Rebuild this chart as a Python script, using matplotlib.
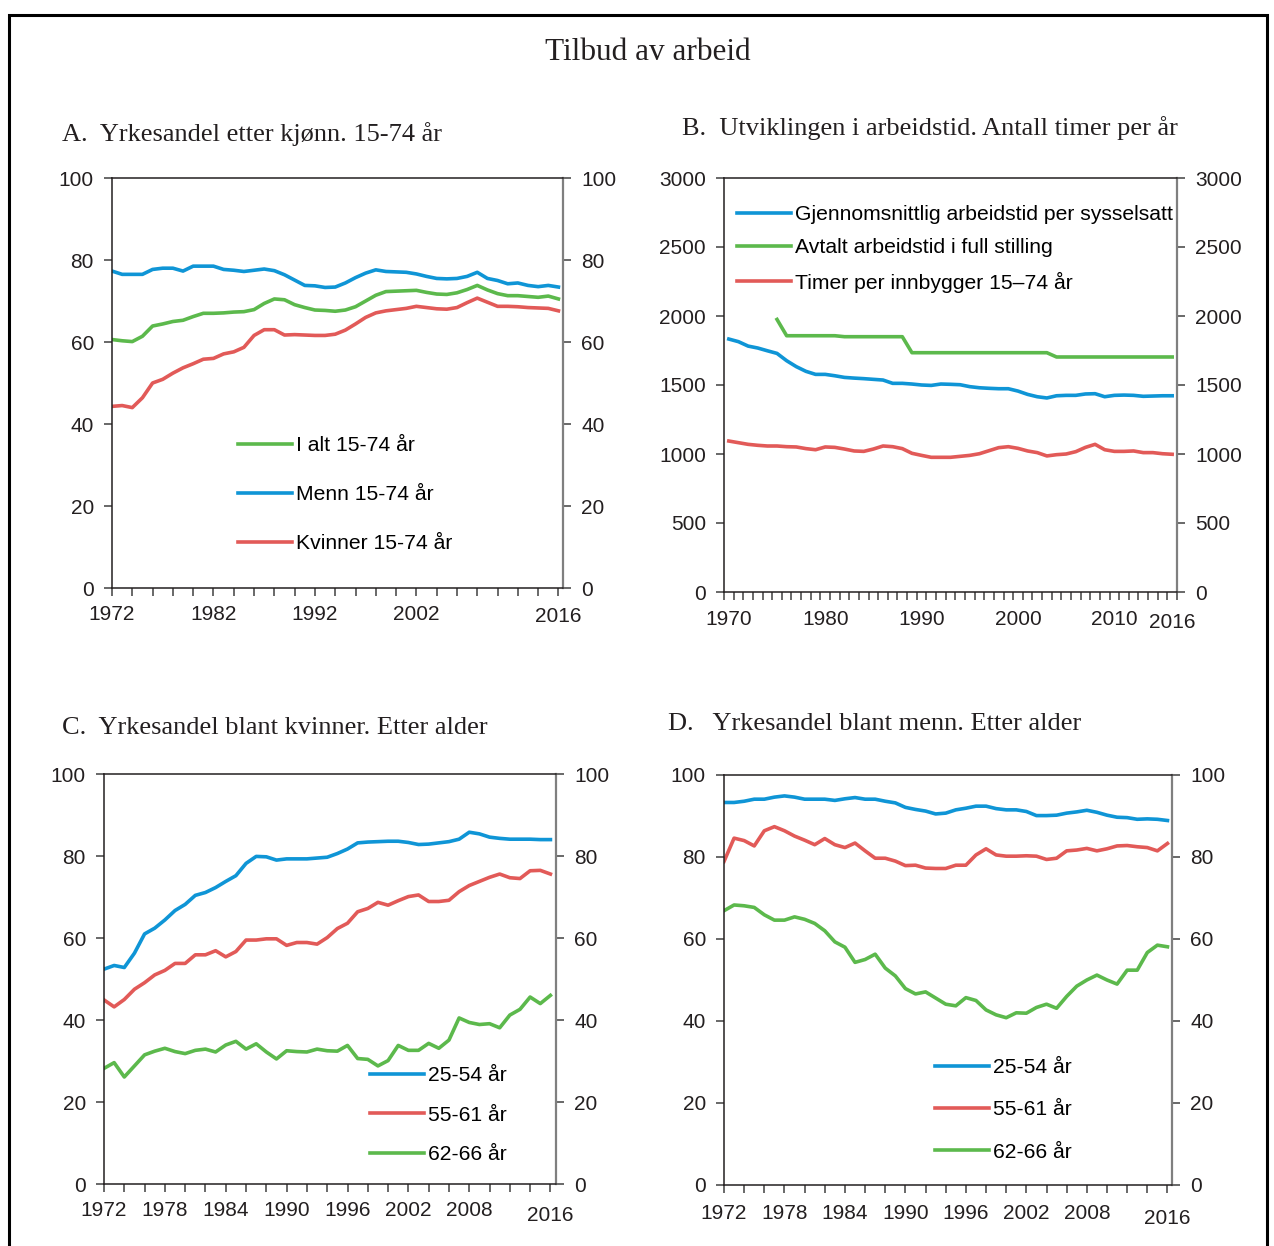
import matplotlib
matplotlib.use('Agg')
import matplotlib.pyplot as plt
from matplotlib.patches import Rectangle
from matplotlib.transforms import ScaledTranslation

plt.rcParams['font.family'] = ['Liberation Sans', 'DejaVu Sans']

BLUE = '#0f95d6'
GREEN = '#5cb94c'
RED = '#e25a58'
DARK = '#231f20'

# --- data ---------------------------------------------------------------
years = list(range(1972, 2017))
years_b = list(range(1970, 2017))
years_avtalt = list(range(1975, 2017))

# A. Yrkesandel etter kjonn, 15-74 aar
a_total = [60.6, 60.3, 60.1, 61.4, 63.9, 64.4, 65.0, 65.3, 66.2, 67.0,
           67.0, 67.1, 67.3, 67.4, 67.9, 69.4, 70.5, 70.3, 69.1, 68.4,
           67.8, 67.7, 67.5, 67.8, 68.6, 70.0, 71.4, 72.3, 72.4, 72.5,
           72.6, 72.1, 71.7, 71.6, 72.0, 72.8, 73.8, 72.7, 71.8, 71.3,
           71.3, 71.1, 70.9, 71.2, 70.5]
a_menn = [77.3, 76.5, 76.5, 76.5, 77.7, 78.0, 78.0, 77.3, 78.5, 78.5,
          78.5, 77.7, 77.5, 77.2, 77.5, 77.8, 77.4, 76.4, 75.1, 73.8,
          73.7, 73.3, 73.4, 74.4, 75.7, 76.8, 77.6, 77.2, 77.1, 77.0,
          76.6, 76.0, 75.5, 75.4, 75.5, 76.0, 77.0, 75.5, 75.0, 74.2,
          74.4, 73.8, 73.5, 73.8, 73.4]
a_kvinner = [44.3, 44.5, 44.0, 46.4, 50.0, 50.9, 52.4, 53.7, 54.7, 55.8,
             56.0, 57.1, 57.6, 58.7, 61.6, 63.0, 63.0, 61.7, 61.8, 61.7,
             61.6, 61.6, 61.9, 62.9, 64.4, 66.0, 67.1, 67.6, 67.9, 68.2,
             68.7, 68.4, 68.1, 68.0, 68.4, 69.6, 70.7, 69.7, 68.7, 68.7,
             68.6, 68.4, 68.3, 68.2, 67.6]

# B. Arbeidstid, timer per aar
b_snitt = [1833, 1814, 1782, 1768, 1748, 1729, 1676, 1633, 1599, 1577,
           1577, 1567, 1555, 1550, 1546, 1541, 1536, 1512, 1512, 1507,
           1500, 1497, 1507, 1505, 1502, 1488, 1480, 1476, 1473, 1473,
           1456, 1432, 1415, 1406, 1422, 1425, 1425, 1435, 1437, 1415,
           1425, 1427, 1425, 1418, 1420, 1422, 1422]
b_avtalt = [1975, 1857, 1857, 1857, 1857, 1857, 1857,
            1850, 1850, 1850, 1850, 1850, 1850, 1850,
            1734, 1734, 1734, 1734, 1734, 1734, 1734, 1734, 1734, 1734,
            1734, 1734, 1734, 1734, 1734,
            1703, 1703, 1703, 1703, 1703, 1703, 1703, 1703, 1703, 1703,
            1703, 1703, 1703]
b_innbygger = [1094, 1082, 1070, 1063, 1058, 1058, 1053, 1051, 1039, 1031,
               1051, 1048, 1036, 1022, 1019, 1036, 1058, 1053, 1039, 1005,
               990, 976, 976, 976, 983, 990, 1002, 1024, 1046, 1053,
               1041, 1022, 1010, 986, 995, 1000, 1017, 1048, 1070, 1031,
               1019, 1019, 1022, 1010, 1010, 1002, 998]

# C. Kvinner etter alder
c_2554 = [52.4, 53.3, 52.8, 56.3, 61.0, 62.4, 64.4, 66.7, 68.2, 70.4,
          71.1, 72.3, 73.8, 75.2, 78.2, 79.9, 79.8, 79.0, 79.3, 79.3,
          79.3, 79.5, 79.7, 80.6, 81.7, 83.2, 83.4, 83.5, 83.6, 83.6,
          83.3, 82.8, 82.9, 83.2, 83.5, 84.1, 85.8, 85.4, 84.6, 84.3,
          84.1, 84.1, 84.1, 84.0, 84.0]
c_5561 = [44.9, 43.2, 45.0, 47.5, 49.1, 51.0, 52.1, 53.8, 53.8, 55.9,
          55.9, 56.9, 55.4, 56.7, 59.5, 59.5, 59.8, 59.8, 58.2, 58.9,
          58.9, 58.5, 60.1, 62.3, 63.6, 66.4, 67.2, 68.7, 68.0, 69.1,
          70.1, 70.5, 68.9, 68.9, 69.2, 71.3, 72.8, 73.8, 74.8, 75.6,
          74.7, 74.5, 76.4, 76.5, 75.6]
c_6266 = [28.2, 29.6, 26.1, 28.8, 31.5, 32.4, 33.1, 32.3, 31.8, 32.6,
          32.9, 32.2, 33.9, 34.8, 32.9, 34.2, 32.2, 30.5, 32.5, 32.3,
          32.2, 32.9, 32.5, 32.4, 33.8, 30.6, 30.4, 28.8, 30.1, 33.8,
          32.6, 32.6, 34.3, 33.1, 35.1, 40.5, 39.4, 38.9, 39.1, 38.1,
          41.2, 42.6, 45.6, 44.0, 46.0]

# D. Menn etter alder
d_2554 = [93.3, 93.3, 93.6, 94.1, 94.1, 94.6, 94.9, 94.6, 94.1, 94.1,
          94.1, 93.8, 94.2, 94.5, 94.1, 94.1, 93.6, 93.2, 92.1, 91.6,
          91.2, 90.5, 90.7, 91.5, 91.9, 92.4, 92.4, 91.8, 91.5, 91.5,
          91.1, 90.1, 90.1, 90.2, 90.7, 91.0, 91.4, 90.9, 90.2, 89.7,
          89.6, 89.2, 89.3, 89.2, 88.9]
d_5561 = [78.9, 84.6, 84.0, 82.7, 86.4, 87.4, 86.4, 85.1, 84.1, 83.0,
          84.5, 83.0, 82.3, 83.4, 81.5, 79.7, 79.7, 79.0, 77.9, 78.0,
          77.3, 77.2, 77.2, 78.0, 78.0, 80.5, 82.0, 80.5, 80.2, 80.2,
          80.3, 80.2, 79.4, 79.7, 81.5, 81.7, 82.1, 81.5, 82.0, 82.7,
          82.8, 82.5, 82.3, 81.5, 83.3]
d_6266 = [66.9, 68.3, 68.1, 67.7, 65.9, 64.6, 64.6, 65.4, 64.8, 63.8,
          62.0, 59.3, 58.0, 54.3, 55.0, 56.3, 52.9, 51.0, 47.9, 46.6,
          47.1, 45.6, 44.1, 43.7, 45.7, 45.0, 42.7, 41.5, 40.8, 42.0,
          41.9, 43.3, 44.1, 43.1, 46.0, 48.5, 50.0, 51.2, 50.0, 49.0,
          52.4, 52.4, 56.7, 58.5, 58.1]

labels_a = ['1972', '1982', '1992', '2002', '2016']
labels_cd = ['1972', '1978', '1984', '1990', '1996', '2002', '2008', '2016']
labels_b = ['1970', '1980', '1990', '2000', '2010', '2016']

LW = 2.6
TICK_FS = 15
LEG_FS = 15.2


def style_axes(ax, yticks, xpad):
    for side in ['left', 'bottom', 'top']:
        ax.spines[side].set_color(DARK)
        ax.spines[side].set_linewidth(1.1)
    ax.spines['right'].set_color('#7f7f7f')
    ax.spines['right'].set_linewidth(1.6)
    ax.set_ylim(yticks[0], yticks[-1])
    ax.set_yticks(yticks)
    ax.tick_params(axis='y', which='both', left=True, right=True,
                   labelleft=True, labelright=True, direction='out',
                   length=6, width=1.1, color='#404040', pad=7,
                   labelsize=TICK_FS, labelcolor=DARK)
    ax.tick_params(axis='x', which='major', direction='out', length=6,
                   width=1.1, color='#404040', pad=xpad,
                   labelsize=TICK_FS, labelcolor=DARK)


def year_axis(ax, first, last, right_edge, shown):
    ax.set_xlim(first, right_edge)
    ticks = list(range(first, last + 1, 2))
    ax.set_xticks(ticks)
    ax.set_xticklabels([str(t) if str(t) in shown else '' for t in ticks])


def drop_last_label(fig, ax, points):
    lbl = ax.get_xticklabels()[-1]
    lbl.set_transform(lbl.get_transform()
                      + ScaledTranslation(0, -points / 72, fig.dpi_scale_trans))


def add_legend(ax, handles, anchor, spacing):
    ax.legend(handles=handles, loc='upper left', bbox_to_anchor=anchor,
              frameon=False, fontsize=LEG_FS, handlelength=2.55,
              handletextpad=0.2, labelspacing=spacing, borderpad=0,
              borderaxespad=0)


fig = plt.figure(figsize=(12.74, 12.46), dpi=100)

# --- A ------------------------------------------------------------------
ax_a = fig.add_axes([112 / 1274, 1 - 588 / 1246, 451 / 1274, 410 / 1246])
la1, = ax_a.plot(years, a_total, color=GREEN, lw=LW, label='I alt 15-74 år')
la2, = ax_a.plot(years, a_menn, color=BLUE, lw=LW, label='Menn 15-74 år')
la3, = ax_a.plot(years, a_kvinner, color=RED, lw=LW, label='Kvinner 15-74 år')
style_axes(ax_a, [0, 20, 40, 60, 80, 100], 6.5)
year_axis(ax_a, 1972, 2016, 2016.45, labels_a)
drop_last_label(fig, ax_a, 1.5)
add_legend(ax_a, [la1, la2, la3], (0.279, 0.371), 1.43)

# --- B ------------------------------------------------------------------
ax_b = fig.add_axes([724 / 1274, 1 - 592 / 1246, 453 / 1274, 414 / 1246])
lb1, = ax_b.plot(years_b, b_snitt, color=BLUE, lw=LW,
                 label='Gjennomsnittlig arbeidstid per sysselsatt')
lb2, = ax_b.plot(years_avtalt, b_avtalt, color=GREEN, lw=LW,
                 label='Avtalt arbeidstid i full stilling')
lb3, = ax_b.plot(years_b, b_innbygger, color=RED, lw=LW,
                 label='Timer per innbygger 15–74 år')
style_axes(ax_b, [0, 500, 1000, 1500, 2000, 2500, 3000], 5)
ax_b.set_xlim(years_b[0] - 0.5, years_b[-1] + 0.5)
ax_b.set_xticks([y - 0.5 for y in years_b] + [years_b[-1] + 0.5])
ax_b.set_xticklabels([])
ax_b.set_xticks([int(s) for s in labels_b], minor=True)
ax_b.set_xticklabels(labels_b, minor=True)
ax_b.tick_params(axis='x', which='major', length=6)
ax_b.tick_params(axis='x', which='minor', length=0, pad=13,
                 labelsize=TICK_FS, labelcolor=DARK)
lbl = ax_b.get_xticklabels(minor=True)[-1]
lbl.set_transform(lbl.get_transform()
                  + ScaledTranslation(0, -2 / 72, fig.dpi_scale_trans))
add_legend(ax_b, [lb1, lb2, lb3], (0.029, 0.935), 0.68)

# --- C ------------------------------------------------------------------
ax_c = fig.add_axes([104 / 1274, 1 - 1184 / 1246, 452 / 1274, 410 / 1246])
lc1, = ax_c.plot(years, c_2554, color=BLUE, lw=LW, label='25-54 år')
lc2, = ax_c.plot(years, c_5561, color=RED, lw=LW, label='55-61 år')
lc3, = ax_c.plot(years, c_6266, color=GREEN, lw=LW, label='62-66 år')
style_axes(ax_c, [0, 20, 40, 60, 80, 100], 6.5)
year_axis(ax_c, 1972, 2016, 2016.55, labels_cd)
drop_last_label(fig, ax_c, 3.5)
add_legend(ax_c, [lc1, lc2, lc3], (0.588, 0.288), 0.98)

# --- D ------------------------------------------------------------------
ax_d = fig.add_axes([724 / 1274, 1 - 1185 / 1246, 448 / 1274, 410 / 1246])
ld1, = ax_d.plot(years, d_2554, color=BLUE, lw=LW, label='25-54 år')
ld2, = ax_d.plot(years, d_5561, color=RED, lw=LW, label='55-61 år')
ld3, = ax_d.plot(years, d_6266, color=GREEN, lw=LW, label='62-66 år')
style_axes(ax_d, [0, 20, 40, 60, 80, 100], 7.5)
year_axis(ax_d, 1972, 2016, 2016.45, labels_cd)
drop_last_label(fig, ax_d, 3.5)
add_legend(ax_d, [ld1, ld2, ld3], (0.471, 0.31), 1.11)

# --- titles and frame ---------------------------------------------------
serif = ['Liberation Serif', 'DejaVu Serif']
fig.text(648 / 1274, 1 - 52 / 1246, 'Tilbud av arbeid', family=serif,
         fontsize=22.5, ha='center', va='center', color=DARK)
fig.text(62 / 1274, 1 - 134 / 1246, 'A.  Yrkesandel etter kjønn. 15-74 år',
         family=serif, fontsize=19, ha='left', va='center', color=DARK)
fig.text(682 / 1274, 1 - 128 / 1246,
         'B.  Utviklingen i arbeidstid. Antall timer per år',
         family=serif, fontsize=19, ha='left', va='center', color=DARK)
fig.text(62 / 1274, 1 - 728 / 1246, 'C.  Yrkesandel blant kvinner. Etter alder',
         family=serif, fontsize=19, ha='left', va='center', color=DARK)
fig.text(668 / 1274, 1 - 724 / 1246, 'D.   Yrkesandel blant menn. Etter alder',
         family=serif, fontsize=19, ha='left', va='center', color=DARK)

fig.patches.append(Rectangle((9 / 1274, -0.02), 1258 / 1274, 1.02 - 15 / 1246,
                             transform=fig.transFigure, fill=False,
                             edgecolor='black', linewidth=2.2))

fig.savefig('out.png', dpi=100)
